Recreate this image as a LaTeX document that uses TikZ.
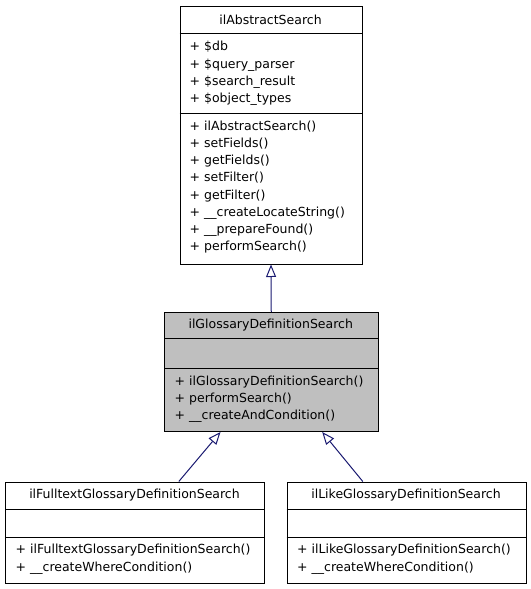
\documentclass[tikz,border=0pt]{standalone}
\usepackage{fontspec}
\setmainfont{DejaVu Sans}
\usetikzlibrary{arrows.meta,calc}
\definecolor{edgeblue}{HTML}{191970}
\definecolor{boxgray}{HTML}{BFBFBF}
\begin{document}
\begin{tikzpicture}[x=1bp,y=-1bp,
  font=\fontsize{12.5bp}{17.25bp}\selectfont,
  umlbox/.style={draw=black,line width=1bp,rectangle,inner sep=0pt,anchor=north west},
  divider/.style={draw=black,line width=1bp},
  title/.style={inner sep=0pt,anchor=center},
  members/.style={inner sep=0pt,anchor=west,align=left},
  inh/.style={draw=edgeblue,line width=1bp,-{Triangle[open,length=12.5bp,width=10bp,fill=white]}}
]
\useasboundingbox (0,0) rectangle (531,589);
% top box
\node[umlbox,minimum width=182bp,minimum height=257.5bp] (top) at (179.5,6) {};
\draw[divider] (179.5,33.5) -- (361.5,33.5);
\draw[divider] (179.5,114) -- (361.5,114);
\node[title] (toptitle) at (270.5,19.75) {ilAbstractSearch};
\node[members] (topattr) at (189.5,73.5) {+ \$db\\+ \$query\_parser\\+ \$search\_result\\+ \$object\_types};
\node[members] (topmeth) at (189.5,187) {+ ilAbstractSearch()\\+ setFields()\\+ getFields()\\+ setFilter()\\+ getFilter()\\+ \_\_createLocateString()\\+ \_\_prepareFound()\\+ performSearch()};
% middle box
\node[umlbox,fill=boxgray,minimum width=213.5bp,minimum height=119bp] (mid) at (164,312) {};
\draw[divider] (164,338) -- (377.5,338);
\draw[divider] (164,368) -- (377.5,368);
\node[title] (midtitle) at (270.75,325) {ilGlossaryDefinitionSearch};
\node[members] (midmeth) at (174.5,399.3) {+ ilGlossaryDefinitionSearch()\\+ performSearch()\\+ \_\_createAndCondition()};
% left box
\node[umlbox,minimum width=259bp,minimum height=101bp] (left) at (5,481.5) {};
\draw[divider] (5,509.3) -- (264,509.3);
\draw[divider] (5,537.7) -- (264,537.7);
\node[title] (lefttitle) at (134.5,495.4) {ilFulltextGlossaryDefinitionSearch};
\node[members] (leftmeth) at (15.5,559.3) {+ ilFulltextGlossaryDefinitionSearch()\\+ \_\_createWhereCondition()};
% right box
\node[umlbox,minimum width=239bp,minimum height=101bp] (right) at (286.5,481.5) {};
\draw[divider] (286.5,509.3) -- (525.5,509.3);
\draw[divider] (286.5,537.7) -- (525.5,537.7);
\node[title] (righttitle) at (406,495.4) {ilLikeGlossaryDefinitionSearch};
\node[members] (rightmeth) at (297,559.3) {+ ilLikeGlossaryDefinitionSearch()\\+ \_\_createWhereCondition()};
% inheritance
\draw[inh] (mid.north) -- (top.south);
\draw[inh] ([xshift=43.8bp]left.north) -- ([xshift=-50.75bp]mid.south);
\draw[inh] ([xshift=-43.7bp]right.north) -- ([xshift=50.95bp]mid.south);
\end{tikzpicture}
\end{document}
